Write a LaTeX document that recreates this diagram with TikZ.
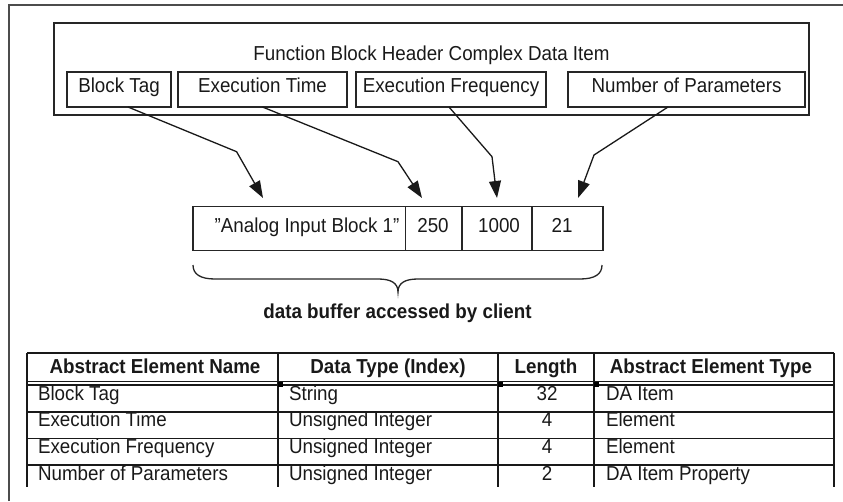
\documentclass[tikz,border=0pt]{standalone}
\usepackage{fontspec}
\setmainfont{Liberation Sans}[FakeStretch=0.93]
\usetikzlibrary{arrows.meta,calc}
\begin{document}
\begin{tikzpicture}[x=1pt,y=-1pt,
  every node/.style={font=\fontsize{20.2}{22}\selectfont, text=black!90, inner sep=0pt, outer sep=0pt},
  box/.style={draw=black!85, line width=1.4pt},
  cell/.style={draw=black!85, line width=1.3pt, minimum height=44pt},
  conn/.style={draw=black!90, line width=1.3pt, -{Triangle[length=17pt,width=12pt]}},
  tline/.style={draw=black!90, line width=1.5pt},
  hdrtxt/.style={font=\fontsize{20.2}{22}\selectfont\bfseries, anchor=base},
  lt/.style={anchor=base west},
  ct/.style={anchor=base}]
\useasboundingbox (0,0) rectangle (843,501);
% outer frame
\draw[line width=1.8pt, black!70] (9,501) -- (9,5) -- (843,5);
% header complex data item
\node[box, minimum width=755pt, minimum height=92pt] (hdr) at (431.5,69) {};
\node[ct] (title) at (431.5,60.5) {Function Block Header Complex Data Item};
\node[box, minimum width=104pt, minimum height=35pt] (bt) at (119,89.5) {};
\node[box, minimum width=169pt, minimum height=35pt] (et) at (262.5,89.5) {};
\node[box, minimum width=190pt, minimum height=35pt] (ef) at (451,89.5) {};
\node[box, minimum width=237pt, minimum height=35pt] (np) at (686.5,89.5) {};
\node[ct] (btt) at (119,92.3) {Block Tag};
\node[ct] (ett) at (262.5,92.3) {Execution Time};
\node[ct] (eft) at (451,92.3) {Execution Frequency};
\node[ct] (npt) at (686.5,92.3) {Number of Parameters};
% data buffer
\node[cell, minimum width=212.5pt] (c1) at (299.25,228.7) {};
\node[cell, minimum width=56.5pt] (c2) at (433.75,228.7) {};
\node[cell, minimum width=70pt] (c3) at (497,228.7) {};
\node[cell, minimum width=71pt] (c4) at (567.5,228.7) {};
\node[ct] (c1t) at (307,232) {"Analog Input Block 1"};
\node[ct] (c2t) at (433,232) {250};
\node[ct] (c3t) at (499,232) {1000};
\node[ct] (c4t) at (562,232) {21};
% connectors
\coordinate (t1) at (263,198);
\coordinate (t2) at (422,198);
\coordinate (t3) at (497,198);
\coordinate (t4) at (578,198);
\draw[conn] ($(bt.south)+(9,0)$) -- (236.6,151.7) -- (t1);
\draw[conn] (et.south) -- (398,161.7) -- (t2);
\draw[conn] ($(ef.south)+(-2,0)$) -- (492,156.7) -- (t3);
\draw[conn] ($(np.south)+(-18.5,0)$) -- (594,155) -- (t4);
% brace
\draw[line width=1.3pt, black!85] (c1.south west) ++(0,14.3) coordinate (bl)
  .. controls (193,274) and (200,279) .. (215,279) -- (378,279)
  .. controls (391,279) and (398,283) .. (398,292)
  .. controls (398,283) and (405,279) .. (418,279) -- (580,279)
  .. controls (595,279) and (602,274) .. (602,265);
\node[ct, font=\fontsize{20.2}{22}\selectfont\bfseries] (cap) at (397.5,318) {data buffer accessed by client};
% table
\draw[tline, line width=2pt] (27,353) -- (834,353);
\draw[tline, line width=1.3pt] (27,381.5) -- (834,381.5);
\draw[tline, line width=1.3pt] (27,385) -- (834,385);
\draw[tline] (27,412) -- (834,412);
\draw[tline, line width=1.8pt] (27,438.5) -- (834,438.5);
\draw[tline] (27,465) -- (834,465);
\foreach \xx in {27,278,498,594,834} \draw[tline] (\xx,353) -- (\xx,487);
\foreach \xx in {278,498,594} \fill[black] (\xx,382) rectangle ++(5,4.5);
\node[hdrtxt] (h1) at (155,373.3) {Abstract Element Name};
\node[hdrtxt] (h2) at (388,373.3) {Data Type (Index)};
\node[hdrtxt] (h3) at (546,373.3) {Length};
\node[hdrtxt] (h4) at (711,373.3) {Abstract Element Type};
% rows
\node[lt] (r1a) at (38,400.7) {Block Tag};
\node[lt] (r1b) at (289,400.7) {String};
\node[ct] (r1c) at (547,400.7) {32};
\node[lt] (r1d) at (606,400.7) {DA Item};
\node[lt] (r2a) at (38,426.7) {Execution Time};
\node[lt] (r2b) at (289,426.7) {Unsigned Integer};
\node[ct] (r2c) at (547,426.7) {4};
\node[lt] (r2d) at (606,426.7) {Element};
\node[lt] (r3a) at (38,453.3) {Execution Frequency};
\node[lt] (r3b) at (289,453.3) {Unsigned Integer};
\node[ct] (r3c) at (547,453.3) {4};
\node[lt] (r3d) at (606,453.3) {Element};
\node[lt] (r4a) at (38,480) {Number of Parameters};
\node[lt] (r4b) at (289,480) {Unsigned Integer};
\node[ct] (r4c) at (547,480) {2};
\node[lt] (r4d) at (606,480) {DA Item Property};
\end{tikzpicture}
\end{document}
